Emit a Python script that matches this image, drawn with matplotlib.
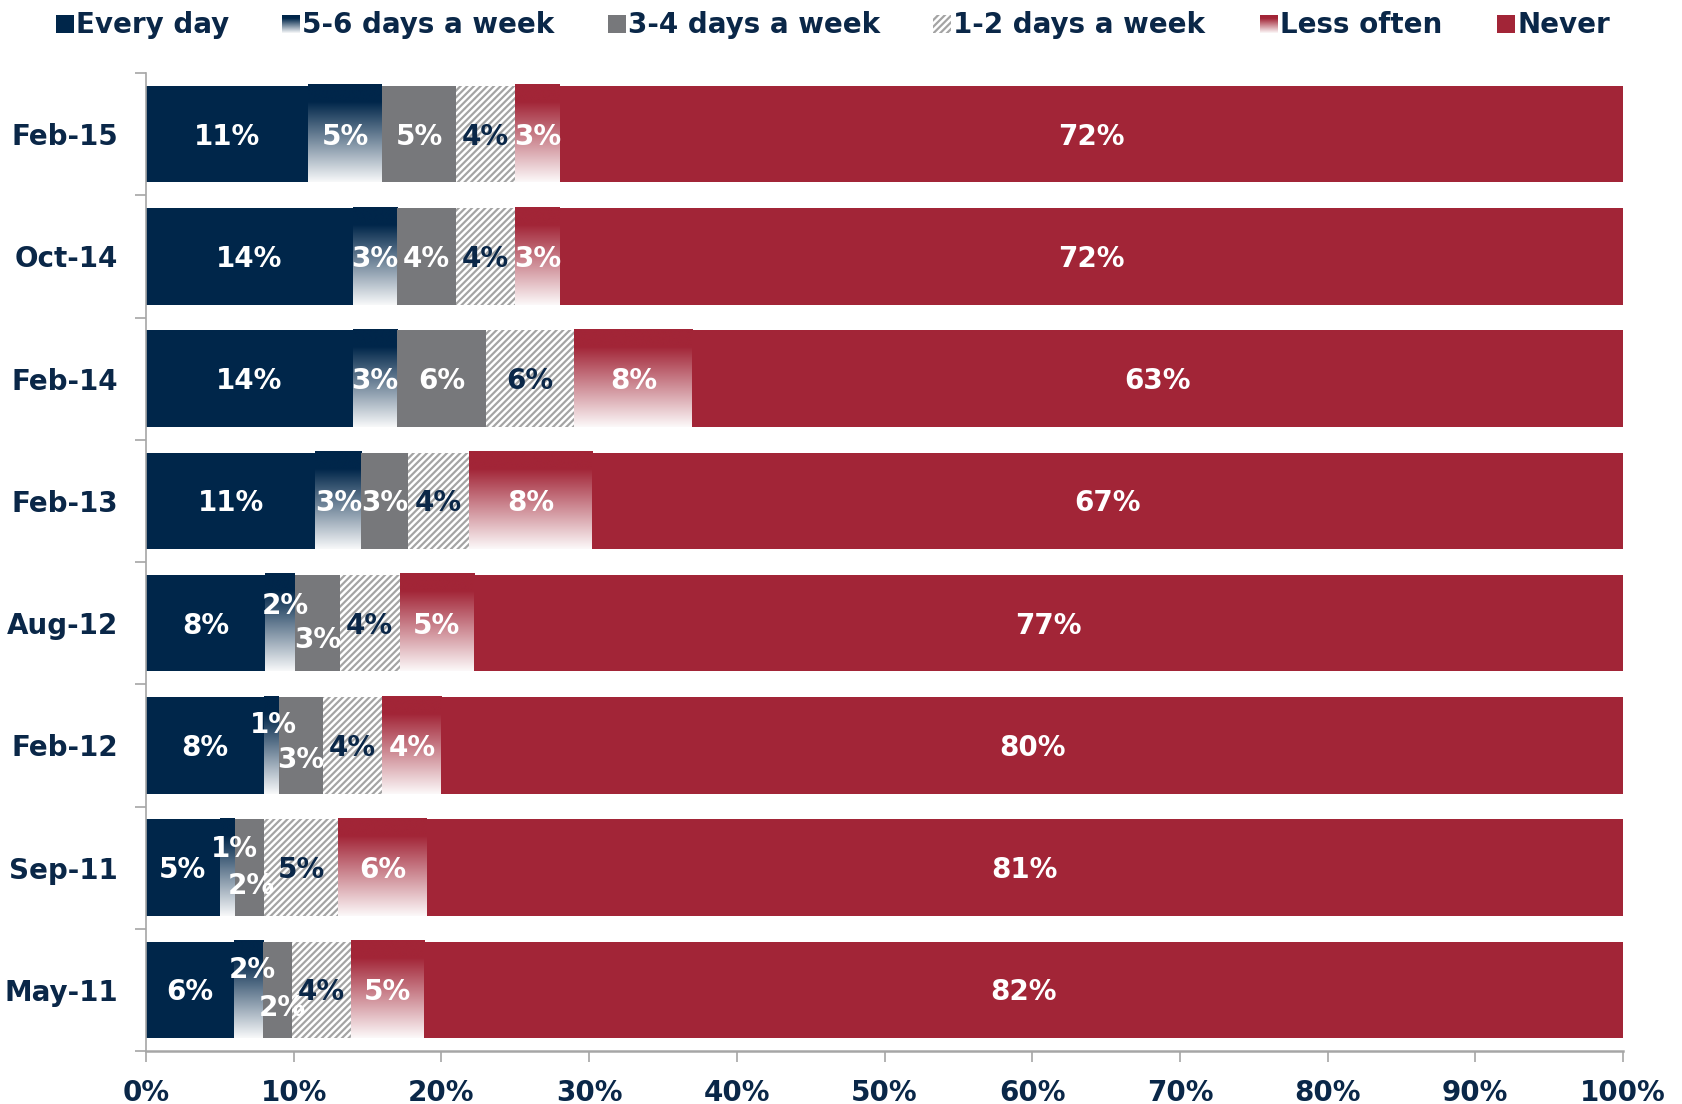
import numpy as np
import matplotlib
matplotlib.use("Agg")
import matplotlib.pyplot as plt
from matplotlib.patches import Rectangle

periods = ["Feb-15", "Oct-14", "Feb-14", "Feb-13", "Aug-12", "Feb-12", "Sep-11", "May-11"]
series = ["Every day", "5-6 days a week", "3-4 days a week",
          "1-2 days a week", "Less often", "Never"]

every_day = [11, 14, 14, 11, 8, 8, 5, 6]
days_5_6 = [5, 3, 3, 3, 2, 1, 1, 2]
days_3_4 = [5, 4, 6, 3, 3, 3, 2, 2]
days_1_2 = [4, 4, 6, 4, 4, 4, 5, 4]
less_often = [3, 3, 8, 8, 5, 4, 6, 5]
never = [72, 72, 63, 67, 77, 80, 81, 82]

NAVY = "#00264A"
GREY = "#77787B"
RED = "#A22537"
HATCH = "#A4A4A4"
TEXT = "#0A2748"
AXIS = "#A6A6A6"

# fill style per series: solid, gradient (colour fading to white) or hatched
styles = [("solid", NAVY), ("grad", NAVY), ("solid", GREY),
          ("hatch", HATCH), ("grad", RED), ("solid", RED)]
label_colors = ["white", "white", "white", TEXT, "white", "white"]

# nudges for labels that would not fit inside narrow segments
nudges = {
    ("Aug-12", 1): (0.35, -0.16), ("Aug-12", 2): (0.0, 0.12),
    ("Feb-12", 1): (0.1, -0.19), ("Feb-12", 2): (0.0, 0.10),
    ("Sep-11", 1): (0.45, -0.17), ("Sep-11", 2): (0.1, 0.13),
    ("May-11", 1): (0.3, -0.18), ("May-11", 2): (0.3, 0.13),
}

plt.rcParams["font.family"] = "DejaVu Sans"
plt.rcParams["font.weight"] = "bold"
plt.rcParams["hatch.linewidth"] = 1.6

FS = 20


def gradient(color, n=256):
    base = np.array(matplotlib.colors.to_rgb(color))
    t = np.linspace(0, 1, n)
    f = np.clip((t - 0.18) / 0.82, 0, 1) * 0.97
    img = base[None, :] * (1 - f[:, None]) + f[:, None]
    return img[:, None, :]


values = np.array([every_day, days_5_6, days_3_4, days_1_2, less_often, never], dtype=float)
shares = values / values.sum(axis=0) * 100

fig = plt.figure(figsize=(16.82, 11.04), dpi=100)
ax = fig.add_axes([146 / 1682, 1 - 1051 / 1104, (1623 - 146) / 1682, (1051 - 73) / 1104])

y = np.arange(len(periods))
h = 0.79
left = np.zeros(len(periods))
for j, (kind, col) in enumerate(styles):
    w = shares[j]
    if kind == "solid":
        ax.barh(y, w, left=left, height=h, color=col, linewidth=0, zorder=2)
    elif kind == "hatch":
        ax.barh(y, w, left=left, height=h, color="white", edgecolor=col,
                hatch="/////", linewidth=0, zorder=2)
    else:
        img = gradient(col)
        for i in range(len(periods)):
            ax.imshow(img, extent=[left[i], left[i] + w[i], y[i] + h / 2, y[i] - h / 2 - 0.01],
                      aspect="auto", interpolation="bilinear", zorder=2)
    for i, p in enumerate(periods):
        dx, dy = nudges.get((p, j), (0, 0))
        ax.text(left[i] + w[i] / 2 + dx, y[i] + 0.02 + dy, f"{int(values[j, i])}%",
                ha="center", va="center", color=label_colors[j],
                fontsize=FS, fontweight="bold", zorder=4)
    left += w

ax.set_xlim(0, 100)
ax.set_ylim(len(periods) - 0.5, -0.5)

ax.set_xticks(np.arange(0, 101, 10))
ax.set_xticklabels([f"{v}%" for v in range(0, 101, 10)])
ax.set_yticks(y)
ax.set_yticklabels(periods)
ax.set_yticks(np.arange(-0.5, len(periods)), minor=True)
ax.tick_params(axis="y", which="major", length=0, pad=20, labelsize=FS, labelcolor=TEXT)
ax.tick_params(axis="y", which="minor", length=8, width=1.2, color=AXIS, direction="out")
ax.tick_params(axis="x", length=8, width=1.2, color=AXIS, direction="out", pad=12,
               labelsize=FS, labelcolor=TEXT)
for s in ["top", "right"]:
    ax.spines[s].set_visible(False)
ax.spines["left"].set_color(AXIS)
ax.spines["left"].set_linewidth(1.2)
ax.spines["bottom"].set_color(AXIS)
ax.spines["bottom"].set_linewidth(1.8)

# legend row along the top
mark_x = [56, 282, 608, 933, 1260, 1497]
size = 18
ytop = 15
for j, name in enumerate(series):
    kind, col = styles[j]
    lax = fig.add_axes([mark_x[j] / 1682, 1 - (ytop + size) / 1104, size / 1682, size / 1104])
    lax.set_xlim(0, 1)
    lax.set_ylim(0, 1)
    lax.axis("off")
    if kind == "solid":
        lax.add_patch(Rectangle((0, 0), 1, 1, color=col, linewidth=0))
    elif kind == "hatch":
        lax.add_patch(Rectangle((0, 0), 1, 1, facecolor="white", edgecolor=col,
                                hatch="/////", linewidth=0))
    else:
        lax.imshow(gradient(col), extent=[0, 1, 0, 1], aspect="auto")
    fig.text((mark_x[j] + size + 2) / 1682, 1 - 33 / 1104, name, ha="left", va="baseline",
             fontsize=FS, fontweight="bold", color=TEXT)

fig.savefig("out.png", dpi=100, facecolor="white")
